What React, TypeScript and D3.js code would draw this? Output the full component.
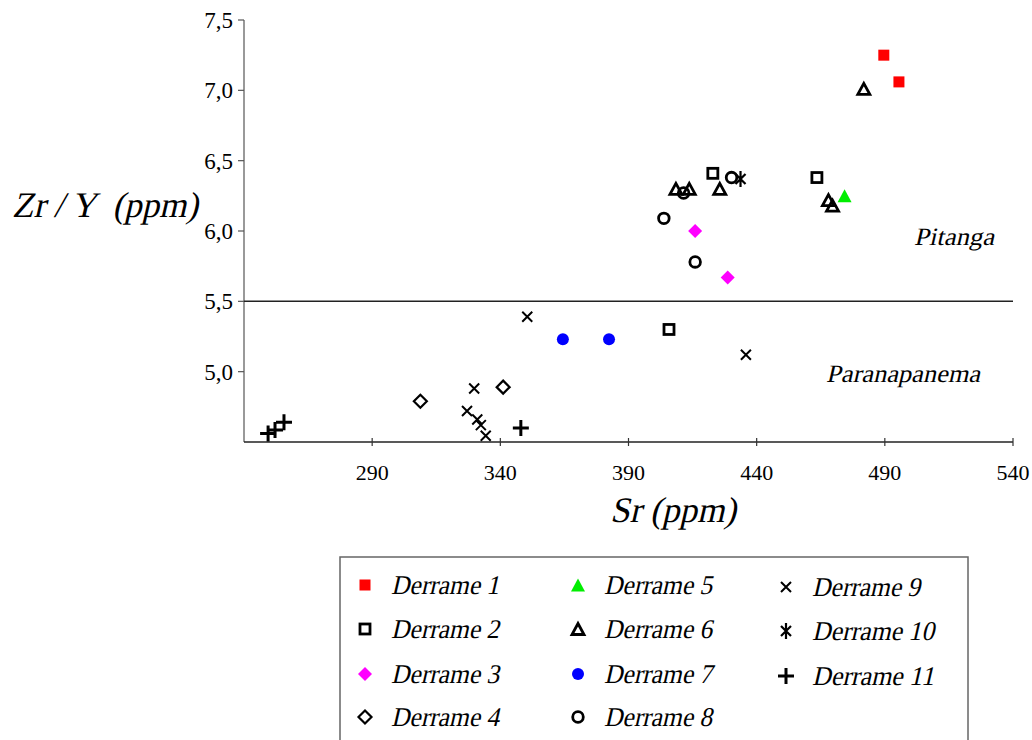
import React, { useEffect, useRef } from 'react';
import * as d3 from 'd3';

// [Sr, Zr/Y] pairs
const derrame1 = [[489.6, 7.25], [495.5, 7.06]];
const derrame2 = [[422.9, 6.41], [463.5, 6.38], [405.8, 5.3]];
const derrame3 = [[416, 6.0], [428.7, 5.67]];
const derrame4 = [[308.8, 4.79], [341.1, 4.89]];
const derrame5 = [[474.3, 6.25]];
const derrame6 = [[408.5, 6.3], [413.7, 6.3], [425.6, 6.3], [468, 6.22], [469.6, 6.18], [481.8, 7.01]];
const derrame7 = [[364.4, 5.23], [382.4, 5.23]];
const derrame8 = [[411.5, 6.27], [430.2, 6.38], [403.8, 6.09], [416, 5.78]];
const derrame9 = [[350.5, 5.39], [329.8, 4.88], [327, 4.72], [331, 4.66], [332.4, 4.62], [334.3, 4.545], [435.8, 5.12]];
const derrame10 = [[433.7, 6.37]];
const derrame11 = [[249.4, 4.56], [252.1, 4.585], [255.6, 4.64], [348, 4.6]];

const seriesNames = ['Derrame 1', 'Derrame 2', 'Derrame 3', 'Derrame 4', 'Derrame 5', 'Derrame 6',
  'Derrame 7', 'Derrame 8', 'Derrame 9', 'Derrame 10', 'Derrame 11'];
const seriesData = [derrame1, derrame2, derrame3, derrame4, derrame5, derrame6,
  derrame7, derrame8, derrame9, derrame10, derrame11];
const seriesSymbols = ['square', 'square', 'diamond', 'diamond', 'triangle', 'triangle',
  'circle', 'circle', 'cross', 'asterisk', 'plus'];
const seriesColors = ['#FF0000', null, '#FF00FF', null, '#00EE00', null,
  '#0000FF', null, null, null, null];

const xTicks = [290, 340, 390, 440, 490, 540];
const yTicks = [5.0, 5.5, 6.0, 6.5, 7.0, 7.5];

const serif = 'Liberation Serif';

function drawMarker(g, kind, color, x, y) {
  const fill = color || 'none';
  const stroke = color ? 'none' : '#000';
  if (kind === 'square') {
    const s = color ? 11 : 10;
    g.append('rect').attr('x', x - s / 2).attr('y', y - s / 2).attr('width', s).attr('height', s)
      .attr('fill', fill).attr('stroke', stroke).attr('stroke-width', 2.8);
  } else if (kind === 'diamond') {
    const r = color ? 7 : 6.5;
    g.append('path').attr('d', `M${x},${y - r}L${x + r},${y}L${x},${y + r}L${x - r},${y}Z`)
      .attr('fill', fill).attr('stroke', stroke).attr('stroke-width', 2.2);
  } else if (kind === 'triangle') {
    const w = color ? 7 : 6, h = color ? 13 : 11;
    g.append('path').attr('d', `M${x},${y - h / 2}L${x + w},${y + h / 2}L${x - w},${y + h / 2}Z`)
      .attr('fill', fill).attr('stroke', stroke).attr('stroke-width', 2.8);
  } else if (kind === 'circle') {
    g.append('circle').attr('cx', x).attr('cy', y).attr('r', color ? 6 : 5.3)
      .attr('fill', fill).attr('stroke', stroke).attr('stroke-width', 2.8);
  } else if (kind === 'cross') {
    const r = 5;
    g.append('path').attr('d', `M${x - r},${y - r}L${x + r},${y + r}M${x + r},${y - r}L${x - r},${y + r}`)
      .attr('stroke', '#000').attr('stroke-width', 2);
  } else if (kind === 'asterisk') {
    const r = 5;
    g.append('path').attr('d', `M${x},${y - 8}L${x},${y + 8}M${x - r},${y - r}L${x + r},${y + r}M${x + r},${y - r}L${x - r},${y + r}`)
      .attr('stroke', '#000').attr('stroke-width', 2.2);
  } else if (kind === 'plus') {
    const r = 8;
    g.append('path').attr('d', `M${x - r},${y}L${x + r},${y}M${x},${y - r}L${x},${y + r}`)
      .attr('stroke', '#000').attr('stroke-width', 3);
  }
}

// slanted serif text (the italic face isn't available, so skew the upright one)
function slanted(g, x, y, str, size, anchor = 'start', width = null) {
  const t = g.append('text')
    .attr('transform', `translate(${x},${y}) skewX(-13)`)
    .attr('text-anchor', anchor)
    .style('font-family', serif)
    .style('white-space', 'pre')
    .attr('font-size', size)
    .text(str);
  if (width) t.attr('textLength', width).attr('lengthAdjust', 'spacingAndGlyphs');
  return t;
}

function App() {
  const svgRef = useRef(null);

  useEffect(() => {
    const svg = d3.select(svgRef.current);
    svg.selectAll('*').remove();

    const x = d3.scaleLinear().domain([240, 540]).range([244, 1013]);
    const y = d3.scaleLinear().domain([4.5, 7.5]).range([442, 20]);

    // axes
    svg.append('line').attr('x1', 244).attr('x2', 244).attr('y1', y(7.5)).attr('y2', y(4.5))
      .attr('stroke', '#777').attr('stroke-width', 1.5);
    svg.append('line').attr('x1', 244).attr('x2', x(540)).attr('y1', y(4.5)).attr('y2', y(4.5))
      .attr('stroke', '#222').attr('stroke-width', 1.5);

    yTicks.forEach(t => {
      svg.append('line').attr('x1', 238).attr('x2', 244).attr('y1', y(t)).attr('y2', y(t))
        .attr('stroke', '#555').attr('stroke-width', 1.2);
      svg.append('text').attr('x', 233).attr('y', y(t) + 8)
        .attr('text-anchor', 'end').style('font-family', serif).attr('font-size', 23)
        .text(d3.format('.1f')(t).replace('.', ','));
    });

    xTicks.forEach(t => {
      svg.append('line').attr('x1', x(t)).attr('x2', x(t)).attr('y1', y(4.5) - 4).attr('y2', y(4.5) + 4)
        .attr('stroke', '#333').attr('stroke-width', 1.2);
      svg.append('text').attr('x', x(t)).attr('y', y(4.5) + 38)
        .attr('text-anchor', 'middle').style('font-family', serif).attr('font-size', 22)
        .text(t);
    });

    // Pitanga / Paranapanema divide
    svg.append('line').attr('x1', 244).attr('x2', x(540)).attr('y1', y(5.5)).attr('y2', y(5.5))
      .attr('stroke', '#222').attr('stroke-width', 1.5);

    slanted(svg, 914, 245, 'Pitanga', 25, 'start', 80);
    slanted(svg, 826, 382, 'Paranapanema', 25, 'start', 154);

    // axis titles
    slanted(svg, 12, 217, 'Zr / Y  (ppm)', 36, 'start', 186);
    slanted(svg, 610, 522, 'Sr (ppm)', 36, 'start', 126);

    // points
    const pts = svg.append('g');
    seriesData.forEach((data, i) => {
      data.forEach(d => drawMarker(pts, seriesSymbols[i], seriesColors[i], x(d[0]), y(d[1])));
    });

    // legend
    svg.append('rect').attr('x', 340).attr('y', 557).attr('width', 628).attr('height', 200)
      .attr('fill', 'none').attr('stroke', '#666').attr('stroke-width', 1.5);
    const colX = [365, 578, 786];
    const rowY = [585, 629, 674, 717];
    seriesNames.forEach((name, i) => {
      const col = Math.floor(i / 4), row = i % 4;
      const cy = rowY[row] + (col === 2 ? 2 : 0);
      drawMarker(svg, seriesSymbols[i], seriesColors[i], colX[col], cy);
      slanted(svg, colX[col] + 26, cy + 9, name, 27, 'start', name.length > 9 ? 122 : 108);
    });
  }, []);

  return (
    <svg ref={svgRef} width={1032} height={740}
      style={{ position: 'absolute', left: 0, top: 0, background: '#fff' }} />
  );
}

export default App;
